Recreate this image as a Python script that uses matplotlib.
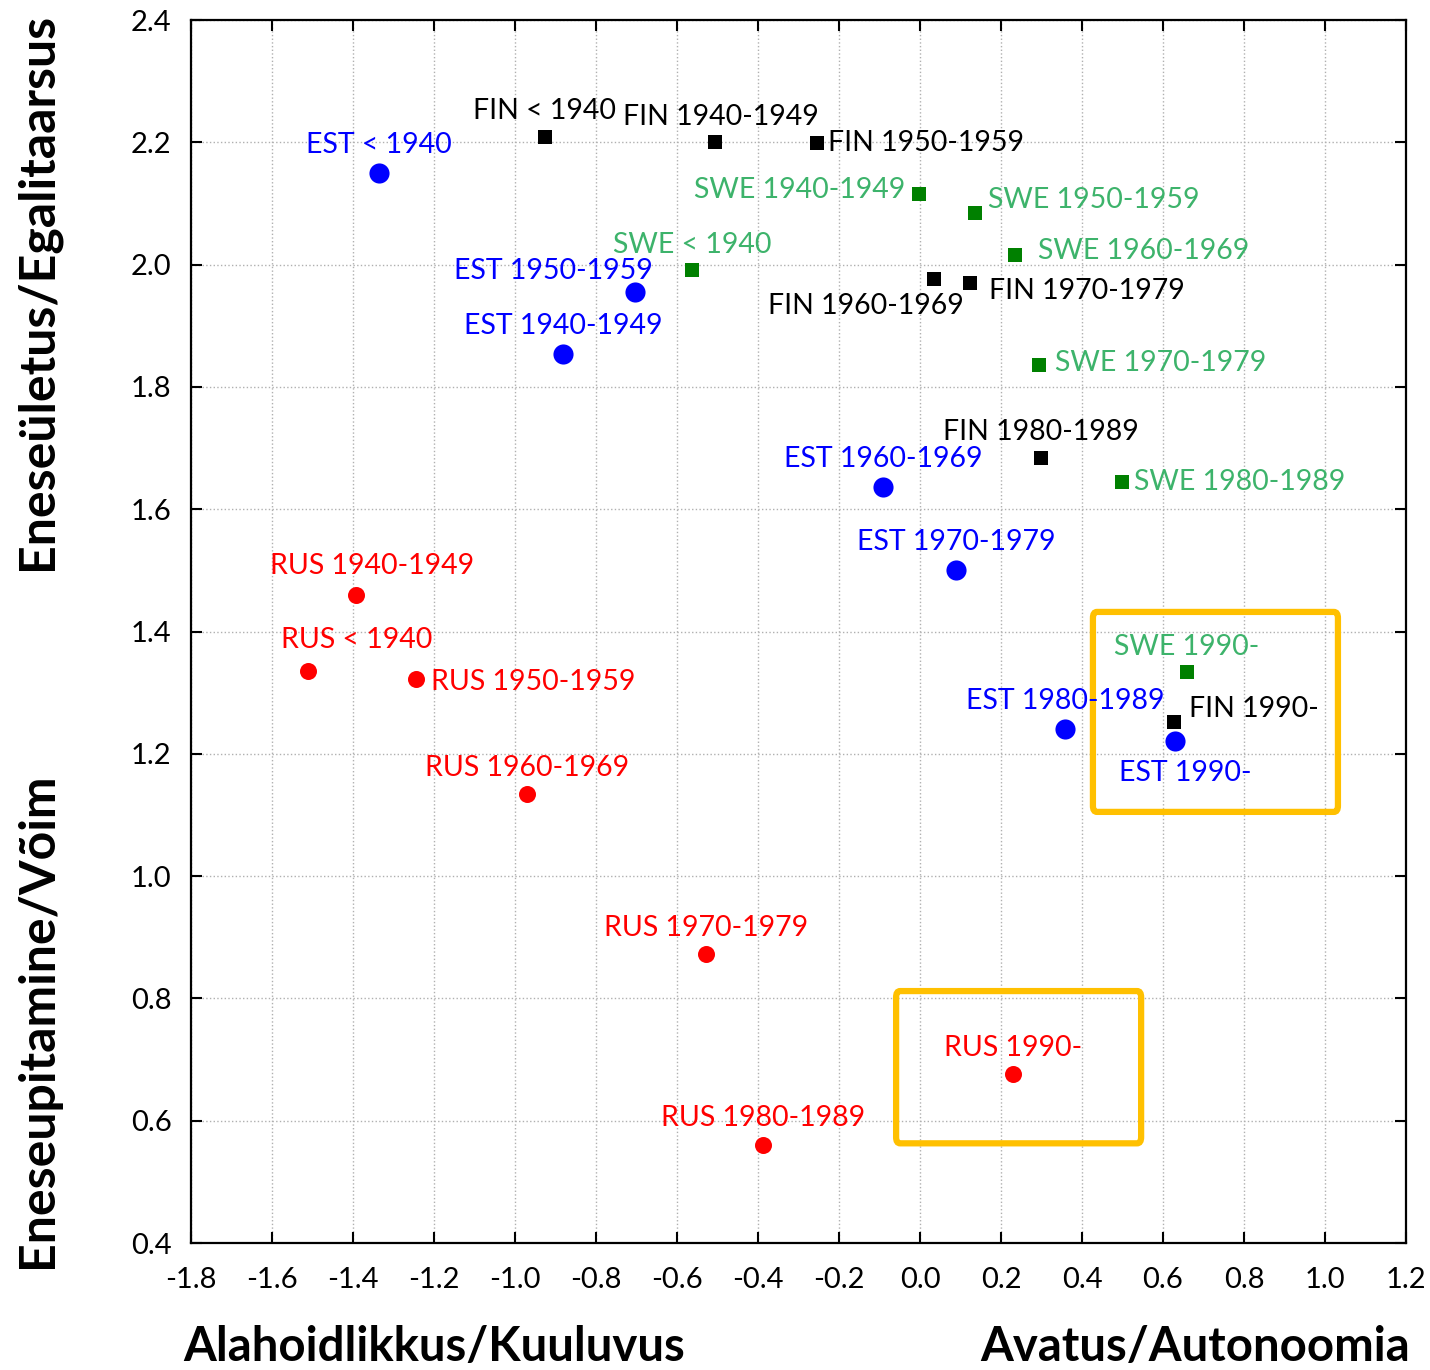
import matplotlib.pyplot as plt
import matplotlib.patches as mpatches

plt.rcParams["font.family"] = ["Lato", "DejaVu Sans"]

# data
est_labels = ["EST < 1940", "EST 1940-1949", "EST 1950-1959", "EST 1960-1969",
              "EST 1970-1979", "EST 1980-1989", "EST 1990-"]
est_x = [-1.336, -0.881, -0.704, -0.091, 0.089, 0.358, 0.630]
est_y = [2.150, 1.854, 1.955, 1.636, 1.501, 1.241, 1.221]

fin_labels = ["FIN < 1940", "FIN 1940-1949", "FIN 1950-1959", "FIN 1960-1969",
              "FIN 1970-1979", "FIN 1980-1989", "FIN 1990-"]
fin_x = [-0.926, -0.506, -0.254, 0.035, 0.123, 0.299, 0.627]
fin_y = [2.209, 2.200, 2.199, 1.976, 1.970, 1.684, 1.252]

swe_labels = ["SWE < 1940", "SWE 1940-1949", "SWE 1950-1959", "SWE 1960-1969",
              "SWE 1970-1979", "SWE 1980-1989", "SWE 1990-"]
swe_x = [-0.563, -0.002, 0.136, 0.235, 0.294, 0.499, 0.659]
swe_y = [1.991, 2.115, 2.084, 2.016, 1.836, 1.644, 1.334]

rus_labels = ["RUS < 1940", "RUS 1940-1949", "RUS 1950-1959", "RUS 1960-1969",
              "RUS 1970-1979", "RUS 1980-1989", "RUS 1990-"]
rus_x = [-1.511, -1.393, -1.244, -0.970, -0.528, -0.388, 0.230]
rus_y = [1.335, 1.460, 1.322, 1.134, 0.873, 0.560, 0.676]

# label offsets (pixels) and alignment for each point
est_off = [(0, 28, "center"), (0, 28, "center"), (-82, 21, "center"), (0, 28, "center"),
           (0, 28, "center"), (0, 28, "center"), (10, -32, "center")]
fin_off = [(0, 26, "center"), (6, 25, "center"), (11, 0, "left"), (-68, -27, "center"),
           (19, -8, "left"), (0, 26, "center"), (15, 13, "left")]
swe_off = [(0, 25, "center"), (-14, 4, "right"), (13, 13, "left"), (23, 4, "left"),
           (16, 2, "left"), (12, 0, "left"), (0, 25, "center")]
rus_off = [(49, 31, "center"), (16, 29, "center"), (15, -3, "left"), (0, 26, "center"),
           (0, 26, "center"), (0, 27, "center"), (0, 26, "center")]

fig = plt.figure(figsize=(14.3, 13.7), dpi=100)
ax = fig.add_axes([0.1336, 0.0927, 0.8496, 0.8927])

ax.scatter(est_x, est_y, s=210, c="#0000FF", marker="o", zorder=3, linewidths=0)
ax.scatter(rus_x, rus_y, s=150, c="#FF0000", marker="o", zorder=3, linewidths=0)
ax.scatter(fin_x, fin_y, s=95, c="black", marker="s", zorder=3, linewidths=0)
ax.scatter(swe_x, swe_y, s=95, c="#008000", marker="s", zorder=3, linewidths=0)

def put_labels(xs, ys, labels, offs, color):
    for x, y, lab, (dx, dy, ha) in zip(xs, ys, labels, offs):
        ax.annotate(lab, (x, y), xytext=(dx, dy), textcoords="offset pixels",
                    ha=ha, va="center", color=color, fontsize=20.5, zorder=4)

put_labels(est_x, est_y, est_labels, est_off, "#0000FF")
put_labels(fin_x, fin_y, fin_labels, fin_off, "black")
put_labels(swe_x, swe_y, swe_labels, swe_off, "#3DB36B")
put_labels(rus_x, rus_y, rus_labels, rus_off, "#FF0000")

# highlight boxes
for (x0, y0, x1, y1) in [(0.427, 1.105, 1.032, 1.432), (-0.059, 0.563, 0.546, 0.812)]:
    ax.add_patch(mpatches.FancyBboxPatch((x0, y0), x1 - x0, y1 - y0,
                                         boxstyle="round,pad=0,rounding_size=0.01",
                                         fill=False, ec="#FFC000", lw=4.5, zorder=2))

ax.set_xlim(-1.8, 1.2)
ax.set_ylim(0.4, 2.4)
ax.set_xticks([-1.8 + 0.2 * i for i in range(16)])
ax.set_yticks([0.4 + 0.2 * i for i in range(11)])
ax.xaxis.set_major_formatter(plt.FormatStrFormatter("%.1f"))
ax.yaxis.set_major_formatter(plt.FormatStrFormatter("%.1f"))
ax.tick_params(direction="in", length=8, width=1.5, labelsize=21,
               top=True, right=True)
ax.tick_params(axis="x", pad=17)
ax.tick_params(axis="y", pad=14)
ax.grid(True, linestyle=":", color="#b0b0b0", linewidth=1)
for sp in ax.spines.values():
    sp.set_linewidth(1.6)

fig.text(0.026, 0.787, "Eneseületus/Egalitaarsus", rotation=90, ha="center", va="center",
         fontsize=36, fontweight="bold")
fig.text(0.026, 0.255, "Eneseupitamine/Võim", rotation=90, ha="center", va="center",
         fontsize=36, fontweight="bold")
fig.text(0.128, 0.017, "Alahoidlikkus/Kuuluvus", ha="left", va="center",
         fontsize=34, fontweight="bold")
fig.text(0.986, 0.017, "Avatus/Autonoomia", ha="right", va="center",
         fontsize=34, fontweight="bold")

fig.savefig("out.png", dpi=100)
